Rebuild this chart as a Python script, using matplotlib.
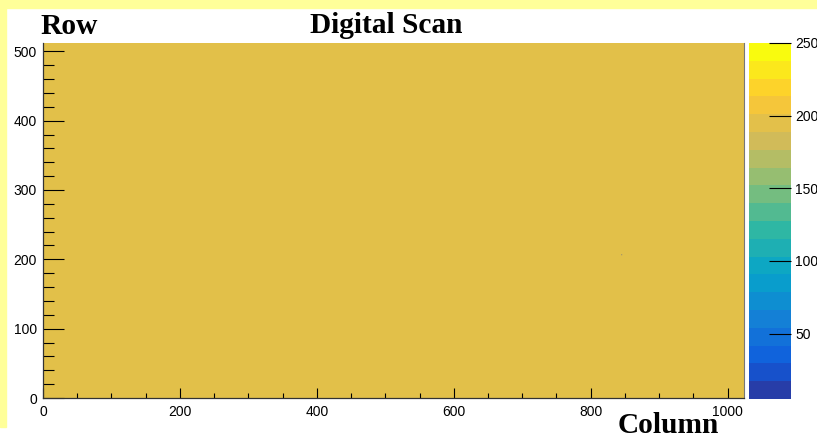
# -*- coding: utf-8 -*-
# digital scan hit map (column x row) with ROOT-like styling

import numpy as np

import matplotlib as mpl
mpl.use('Agg')
from matplotlib import pyplot
from matplotlib.colors import ListedColormap, LinearSegmentedColormap
from matplotlib.patches import Rectangle

# - matrix geometry and injected hits
n_cols = 1024
n_rows = 512
n_injections = 200

# - pixels that did not answer every injection (column, row, hits)
bad_cols = [845]
bad_rows = [206]
bad_hits = [5]

# - palette axis
z_max = 250
n_contours = 20
z_ticks = [50, 100, 150, 200, 250]

# - kBird palette stops
bird_stops = [0.0000, 0.1250, 0.2500, 0.3750, 0.5000, 0.6250, 0.7500, 0.8750, 1.0000]
bird_red = [0.2082, 0.0592, 0.0780, 0.0232, 0.1802, 0.5301, 0.8186, 0.9956, 0.9764]
bird_green = [0.1664, 0.3599, 0.5041, 0.6419, 0.7178, 0.7492, 0.7328, 0.7862, 0.9832]
bird_blue = [0.5293, 0.8684, 0.8385, 0.7914, 0.6425, 0.4662, 0.3499, 0.1968, 0.0539]


def bird_palette(ncont):
    cdict = {
        'red': [(s, v, v) for s, v in zip(bird_stops, bird_red)],
        'green': [(s, v, v) for s, v in zip(bird_stops, bird_green)],
        'blue': [(s, v, v) for s, v in zip(bird_stops, bird_blue)],
    }
    bird = LinearSegmentedColormap('bird', cdict, N=255)
    # one colour per contour band, picked like THistPainter does
    idx = [min(int((i + 0.99) * 255.0 / ncont), 254) for i in range(ncont)]
    return ListedColormap([bird(k / 254.0) for k in idx])


hits = np.full((n_rows, n_cols), float(n_injections))
for c, r, h in zip(bad_cols, bad_rows, bad_hits):
    hits[r, c] = h
z_min = hits[hits > 0].min()

W, H, DPI = 817, 438, 100
fig = pyplot.figure(figsize=(W / DPI, H / DPI), dpi=DPI, facecolor='white')

# canvas frame
fig.patches.append(Rectangle((0, 1 - 8 / H), 1, 8 / H, transform=fig.transFigure,
                             color='#FFFF99', zorder=0))
fig.patches.append(Rectangle((0, 1 - 427 / H), 6 / W, 427 / H, transform=fig.transFigure,
                             color='#FFFF99', zorder=0))

px = 0.72  # points per pixel
x0, x1, y0, y1 = 43, 744, 43, 398

ax = fig.add_axes([x0 / W, 1 - y1 / H, (x1 - x0) / W, (y1 - y0) / H])
im = ax.imshow(hits, origin='lower', extent=[0, n_cols, 0, n_rows], aspect='auto',
               cmap=bird_palette(n_contours), vmin=z_min, vmax=z_max,
               interpolation='antialiased')
ax.set_xlim(0, n_cols)
ax.set_ylim(0, n_rows)

ax.xaxis.set_major_locator(mpl.ticker.MultipleLocator(200))
ax.xaxis.set_minor_locator(mpl.ticker.MultipleLocator(50))
ax.yaxis.set_major_locator(mpl.ticker.MultipleLocator(100))
ax.yaxis.set_minor_locator(mpl.ticker.MultipleLocator(20))

ax.tick_params(axis='x', which='major', direction='in', length=10.5 * px, width=0.8,
               color='black', pad=5, labelsize=10)
ax.tick_params(axis='x', which='minor', direction='in', length=5.3 * px, width=0.8,
               color='black')
ax.tick_params(axis='y', which='major', direction='in', length=21 * px, width=0.8,
               color='black', pad=4.5, labelsize=10)
ax.tick_params(axis='y', which='minor', direction='in', length=10.5 * px, width=0.8,
               color='black')
for lab in ax.get_xticklabels() + ax.get_yticklabels():
    lab.set_fontfamily('Liberation Sans')

ax.spines['top'].set_visible(False)
for s in ['left', 'bottom']:
    ax.spines[s].set_color('#333333')
    ax.spines[s].set_linewidth(0.9)
ax.spines['right'].set_color('#777777')
ax.spines['right'].set_linewidth(0.8)

# palette axis
cx0, cx1 = 749, 791
cax = fig.add_axes([cx0 / W, 1 - 399 / H, (cx1 - cx0) / W, (399 - y0) / H])
cb = fig.colorbar(im, cax=cax, ticks=z_ticks)
cb.outline.set_visible(False)
cax.tick_params(which='major', direction='in', length=22 * px, width=0.8, color='black',
                pad=3, labelsize=10)
cax.tick_params(which='minor', length=0)
for lab in cax.get_yticklabels():
    lab.set_fontfamily('Liberation Sans')

# titles
tfont = dict(family='Liberation Serif', weight='bold', size=21.2, color='black')
fig.text(40 / W, 1 - 34 / H, 'Row', ha='left', va='baseline', **tfont)
fig.text(386.5 / W, 1 - 33 / H, 'Digital Scan', ha='center', va='baseline', **tfont)
fig.text(719 / W, 1 - 433 / H, 'Column', ha='right', va='baseline', **tfont)

pyplot.savefig('out.png', dpi=DPI)
